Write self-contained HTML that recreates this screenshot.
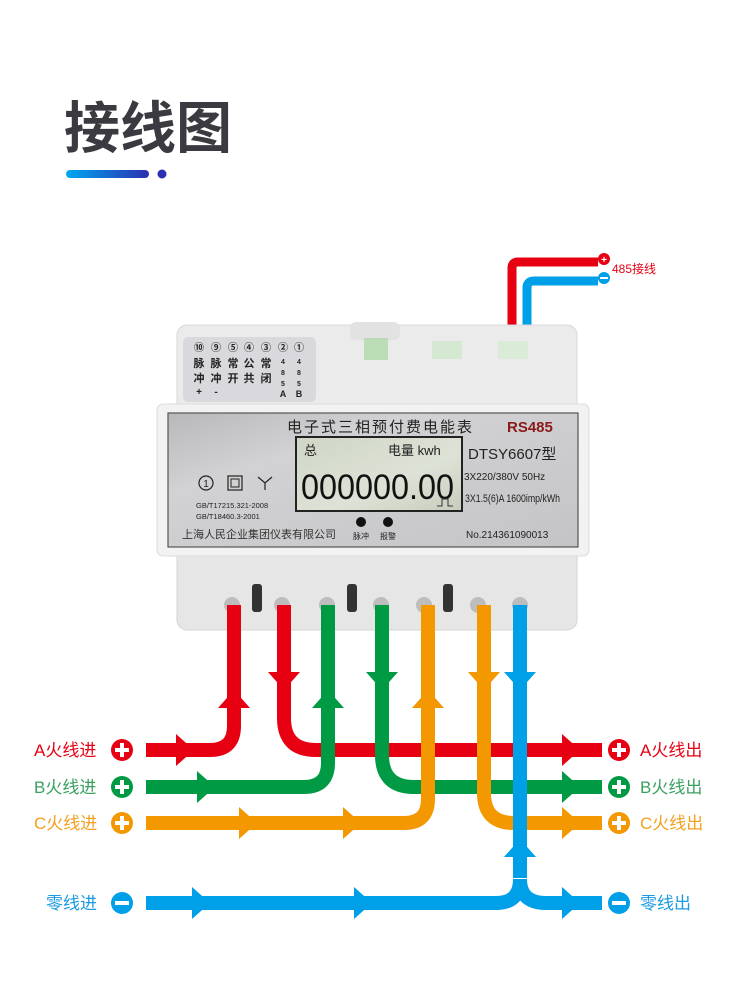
<!DOCTYPE html>
<html><head><meta charset="utf-8"><style>
html,body{margin:0;padding:0;background:#fff;}
svg{display:block;}
text{font-family:"Liberation Sans","Noto Sans CJK SC",sans-serif;}
</style></head><body>
<svg width="750" height="1006" viewBox="0 0 750 1006" xmlns="http://www.w3.org/2000/svg">
<defs>
<linearGradient id="bar" x1="0" x2="1"><stop offset="0" stop-color="#00a8f0"/><stop offset="1" stop-color="#2a2fb0"/></linearGradient>
<linearGradient id="panel" x1="0" x2="1" y1="0" y2="1"><stop offset="0" stop-color="#b8b8ba"/><stop offset="0.3" stop-color="#d2d2d4"/><stop offset="1" stop-color="#c4c4c6"/></linearGradient>
<linearGradient id="lcd" x1="0" x2="1" y1="0" y2="1"><stop offset="0" stop-color="#cfd6c6"/><stop offset="0.6" stop-color="#dde2d6"/><stop offset="1" stop-color="#c7cdbd"/></linearGradient>
</defs>
<!-- title -->
<text x="64" y="148" font-size="56" font-weight="bold" fill="#3a3a40">接线图</text>
<rect x="66" y="170" width="83" height="8" rx="4" fill="url(#bar)"/>
<circle cx="162" cy="174" r="4.5" fill="#2a2fb0"/>

<!-- 485 wires -->
<path d="M512,350 V268 Q512,262 518,262 H598" fill="none" stroke="#e60012" stroke-width="9"/>
<path d="M527,350 V288 Q527,281 534,281 H598" fill="none" stroke="#00a0e9" stroke-width="9"/>
<circle cx="604" cy="259" r="6" fill="#e60012"/><text x="604" y="263" font-size="10" fill="#fff" text-anchor="middle" font-weight="bold">+</text>
<circle cx="604" cy="278" r="6" fill="#00a0e9"/><rect x="600" y="277" width="8" height="2" fill="#fff"/>
<text x="612" y="273" font-size="12" fill="#e60012">485接线</text>

<!-- meter top housing -->
<rect x="177" y="325" width="400" height="90" rx="10" fill="#ebebeb" stroke="#d8d8d8"/>
<rect x="350" y="322" width="50" height="18" rx="6" fill="#e2e2e2"/>
<rect x="364" y="338" width="24" height="22" fill="#a8d8a0" opacity="0.7"/>
<rect x="432" y="341" width="30" height="18" fill="#cfe8cc" opacity="0.8"/>
<rect x="498" y="341" width="30" height="18" fill="#d6ebd2" opacity="0.8"/>
<rect x="183" y="337" width="133" height="65" rx="5" fill="#d9d9dd"/>
<g font-size="10" font-weight="bold" fill="#222" text-anchor="middle">
<text x="199" y="351">⑩</text><text x="216" y="351">⑨</text><text x="233" y="351">⑤</text><text x="249" y="351">④</text><text x="266" y="351">③</text><text x="283" y="351">②</text><text x="299" y="351">①</text>
<g font-size="11"><text x="199" y="367">脉</text><text x="216" y="367">脉</text><text x="233" y="367">常</text><text x="249" y="367">公</text><text x="266" y="367">常</text>
<text x="199" y="382">冲</text><text x="216" y="382">冲</text><text x="233" y="382">开</text><text x="249" y="382">共</text><text x="266" y="382">闭</text></g>
<g font-size="7" font-family="Liberation Serif,serif"><text x="283" y="364">4</text><text x="283" y="375">8</text><text x="283" y="386">5</text><text x="283" y="397" font-size="9">A</text>
<text x="299" y="364">4</text><text x="299" y="375">8</text><text x="299" y="386">5</text><text x="299" y="397" font-size="9">B</text></g>
<text x="199" y="395">+</text><text x="216" y="395">-</text>
</g>
<!-- bottom housing -->
<rect x="177" y="545" width="400" height="85" rx="10" fill="#e6e6e6" stroke="#d4d4d4"/>
<g fill="#bdbdbd"><circle cx="232" cy="605" r="8"/><circle cx="282" cy="605" r="8"/><circle cx="327" cy="605" r="8"/><circle cx="381" cy="605" r="8"/><circle cx="424" cy="605" r="8"/><circle cx="478" cy="605" r="8"/><circle cx="520" cy="605" r="8"/></g>
<g fill="#333"><rect x="252" y="584" width="10" height="28" rx="3"/><rect x="347" y="584" width="10" height="28" rx="3"/><rect x="443" y="584" width="10" height="28" rx="3"/></g>
<!-- faceplate -->
<rect x="157" y="404" width="432" height="152" rx="6" fill="#f2f2f2" stroke="#dcdcdc"/>
<rect x="168" y="413" width="410" height="134" fill="url(#panel)" stroke="#555" stroke-width="1.2"/>
<text x="287" y="432" font-size="15" fill="#222" letter-spacing="2">电子式三相预付费电能表</text>
<text x="507" y="432" font-size="15" font-weight="bold" fill="#8b1a1a">RS485</text>
<rect x="296" y="437" width="166" height="74" fill="url(#lcd)" stroke="#222" stroke-width="2"/>
<text x="304" y="455" font-size="13" fill="#222">总</text>
<text x="388" y="455" font-size="13" fill="#222">电量 kwh</text>
<text x="301" y="499" font-size="35" fill="#111" font-family="Liberation Mono,monospace" textLength="153" lengthAdjust="spacingAndGlyphs">000000.00</text>
<path d="M437,506 h5 v-7 h6 v7 h5" fill="none" stroke="#333" stroke-width="1"/>
<text x="468" y="459" font-size="15" fill="#222">DTSY6607型</text>
<text x="464" y="480" font-size="10" fill="#222">3X220/380V    50Hz</text>
<text x="465" y="502" font-size="11" fill="#222" font-family="Liberation Serif,serif" textLength="95" lengthAdjust="spacingAndGlyphs">3X1.5(6)A 1600imp/kWh</text>
<text x="466" y="538" font-size="10" fill="#222">No.214361090013</text>
<text x="182" y="538" font-size="11" fill="#333">上海人民企业集团仪表有限公司</text>
<text x="196" y="508" font-size="7.5" fill="#222">GB/T17215.321-2008</text>
<text x="196" y="519" font-size="7.5" fill="#222">GB/T18460.3-2001</text>
<circle cx="206" cy="483" r="7" fill="none" stroke="#222" stroke-width="1.2"/><text x="206" y="487" font-size="10" text-anchor="middle" fill="#222">1</text>
<rect x="228" y="476" width="14" height="14" fill="none" stroke="#222" stroke-width="1.2"/><rect x="231" y="479" width="8" height="8" fill="none" stroke="#222"/>
<path d="M258,477 L265,483 L272,477 M265,483 V490" stroke="#222" stroke-width="1.2" fill="none"/>
<circle cx="361" cy="522" r="5" fill="#111"/><circle cx="388" cy="522" r="5" fill="#111"/>
<text x="361" y="539" font-size="8" text-anchor="middle" fill="#222">脉冲</text>
<text x="388" y="539" font-size="8" text-anchor="middle" fill="#222">报警</text>

<!-- wires -->
<g fill="none" stroke-width="14">
<path d="M146,750 H210 Q234,750 234,726 V605" stroke="#e60012"/>
<path d="M284,605 V718 Q284,750 316,750 H602" stroke="#e60012"/>
<path d="M146,787 H304 Q328,787 328,763 V605" stroke="#009a44"/>
<path d="M382,605 V755 Q382,787 414,787 H602" stroke="#009a44"/>
<path d="M146,823 H404 Q428,823 428,799 V605" stroke="#f39800"/>
<path d="M484,605 V793 Q484,823 514,823 H602" stroke="#f39800"/>
<path d="M520,605 V878" stroke="#00a0e9"/>
<path d="M146,903 H496 Q520,903 520,879" stroke="#00a0e9"/>
<path d="M520,879 Q520,903 546,903 H602" stroke="#00a0e9"/>
</g>
<!-- arrowheads -->
<g>
<polygon points="176,734 194,750 176,766" fill="#e60012"/>
<polygon points="562,734 580,750 562,766" fill="#e60012"/>
<polygon points="218,708 234,690 250,708" fill="#e60012"/>
<polygon points="268,672 284,690 300,672" fill="#e60012"/>
<polygon points="197,771 215,787 197,803" fill="#009a44"/>
<polygon points="562,771 580,787 562,803" fill="#009a44"/>
<polygon points="312,708 328,690 344,708" fill="#009a44"/>
<polygon points="366,672 382,690 398,672" fill="#009a44"/>
<polygon points="239,807 257,823 239,839" fill="#f39800"/>
<polygon points="343,807 361,823 343,839" fill="#f39800"/>
<polygon points="562,807 580,823 562,839" fill="#f39800"/>
<polygon points="412,708 428,690 444,708" fill="#f39800"/>
<polygon points="468,672 484,690 500,672" fill="#f39800"/>
<polygon points="192,887 210,903 192,919" fill="#00a0e9"/>
<polygon points="354,887 372,903 354,919" fill="#00a0e9"/>
<polygon points="562,887 580,903 562,919" fill="#00a0e9"/>
<polygon points="504,672 520,690 536,672" fill="#00a0e9"/>
<polygon points="504,857 520,839 536,857" fill="#00a0e9"/>
</g>
<!-- side labels -->
<g font-size="17">
<text x="34" y="756" fill="#e60012">A火线进</text>
<text x="34" y="793" fill="#3aa060">B火线进</text>
<text x="34" y="829" fill="#f3a020">C火线进</text>
<text x="46" y="909" fill="#1a9ae0">零线进</text>
<text x="640" y="756" fill="#e60012">A火线出</text>
<text x="640" y="793" fill="#3aa060">B火线出</text>
<text x="640" y="829" fill="#f3a020">C火线出</text>
<text x="640" y="909" fill="#1a9ae0">零线出</text>
</g>
<g>
<circle cx="122" cy="750" r="11" fill="#e60012"/><circle cx="122" cy="787" r="11" fill="#009a44"/><circle cx="122" cy="823" r="11" fill="#f39800"/><circle cx="122" cy="903" r="11" fill="#00a0e9"/>
<circle cx="619" cy="750" r="11" fill="#e60012"/><circle cx="619" cy="787" r="11" fill="#009a44"/><circle cx="619" cy="823" r="11" fill="#f39800"/><circle cx="619" cy="903" r="11" fill="#00a0e9"/>
<g fill="#fff">
<rect x="115" y="748" width="14" height="4"/><rect x="120" y="743" width="4" height="14"/>
<rect x="115" y="785" width="14" height="4"/><rect x="120" y="780" width="4" height="14"/>
<rect x="115" y="821" width="14" height="4"/><rect x="120" y="816" width="4" height="14"/>
<rect x="115" y="901" width="14" height="4"/>
<rect x="612" y="748" width="14" height="4"/><rect x="617" y="743" width="4" height="14"/>
<rect x="612" y="785" width="14" height="4"/><rect x="617" y="780" width="4" height="14"/>
<rect x="612" y="821" width="14" height="4"/><rect x="617" y="816" width="4" height="14"/>
<rect x="612" y="901" width="14" height="4"/>
</g></g>
</svg>
</body></html>
